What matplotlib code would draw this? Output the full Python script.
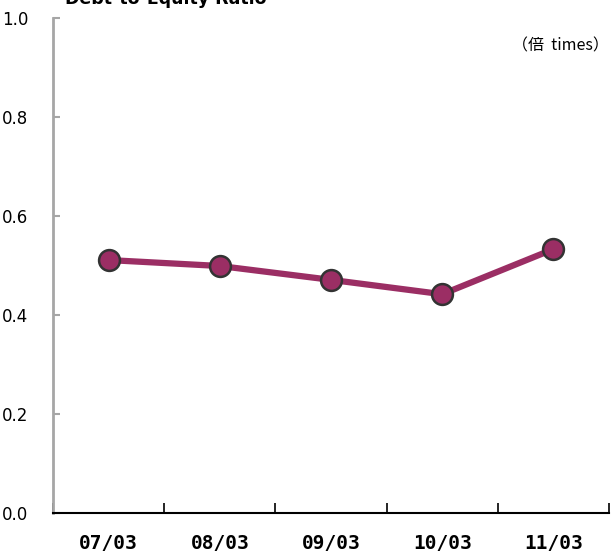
import matplotlib
matplotlib.use("Agg")
import matplotlib.pyplot as plt

categories = ["07/03", "08/03", "09/03", "10/03", "11/03"]
values = [0.511, 0.499, 0.471, 0.442, 0.533]
yticks = [0.0, 0.2, 0.4, 0.6, 0.8, 1.0]

fig = plt.figure(figsize=(6.12, 5.54), dpi=100)
ax = fig.add_axes([53/612, 1 - 513/554, 556/612, 495/554])

x = list(range(len(categories)))
ax.plot(x, values, color="#9B2E64", lw=4.5, marker="o", ms=15,
        mfc="#9B2E64", mec="#333333", mew=1.8, zorder=3, solid_capstyle="butt")

ax.set_xlim(-0.5, len(categories) - 0.5)
ax.set_ylim(0, 1.0)
ax.set_yticks(yticks)
ax.set_yticklabels([f"{v:.1f}" for v in yticks], fontsize=12, family="DejaVu Sans")
ax.set_xticks([i + 0.5 for i in range(-1, len(categories))], minor=False)
ax.set_xticklabels([])
ax.set_xticks(x, minor=True)
ax.set_xticklabels(categories, minor=True, fontsize=14, fontweight="bold",
                   family="DejaVu Sans Mono")

for s in ["top", "right"]:
    ax.spines[s].set_visible(False)
ax.spines["left"].set_color("#A6A6A6")
ax.spines["left"].set_linewidth(2)
ax.spines["bottom"].set_color("#000000")
ax.spines["bottom"].set_linewidth(1.5)

ax.tick_params(axis="y", direction="in", length=5, width=1.5, color="#A6A6A6", pad=18)
ax.tick_params(axis="x", which="major", direction="in", length=7, width=1.2, color="black")
ax.tick_params(axis="x", which="minor", length=0, pad=15)

fig.text(65/612, 1 - 4/554, "Debt-to-Equity Ratio", fontsize=12.5, fontweight="bold",
         ha="left", va="baseline", family="DejaVu Sans")
fig.text(609/612, 1 - 46/554, "（倍  times）", fontsize=11.5, ha="right", va="center",
         family=["Noto Sans CJK JP", "DejaVu Sans"])

fig.savefig("out.png", dpi=100)
